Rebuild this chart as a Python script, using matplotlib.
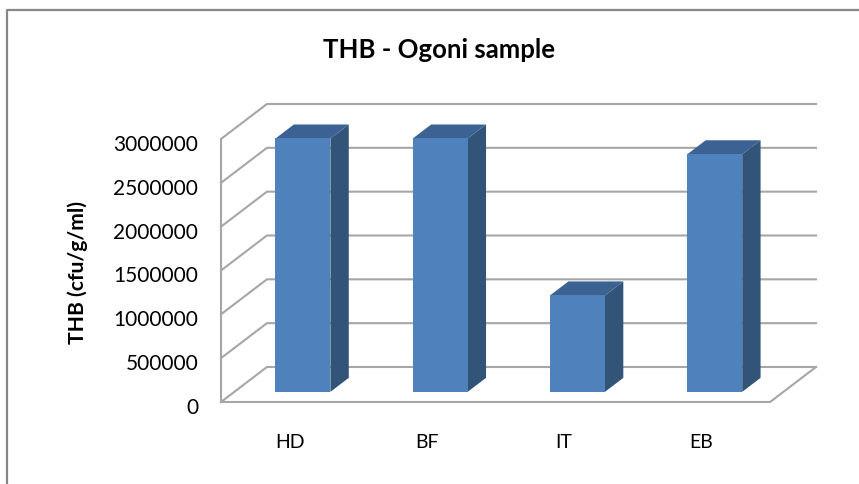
import matplotlib
matplotlib.use('Agg')
import matplotlib.pyplot as plt
from matplotlib.patches import Polygon
from matplotlib.lines import Line2D
from matplotlib.transforms import ScaledTranslation

categories = ['HD', 'BF', 'IT', 'EB']
values = [2890000, 2890000, 1100000, 2710000]
y_ticks = [0, 500000, 1000000, 1500000, 2000000, 2500000, 3000000]

# oblique 3d offsets, in data units (1 category = 137.5 px, 3000000 = 263 px)
DEPTH_X = 46 / 137.5
DEPTH_Y = 35 / 263 * 3000000
BAR_W = 0.4
BAR_NEAR = 0.29
BAR_FAR = 0.69
GRID = '#a6a6a6'

plt.rcParams['font.family'] = ['Lato', 'DejaVu Sans']

W, H = 859, 485
fig = plt.figure(figsize=(W / 100, H / 100), dpi=100)

# outer frame of the chart: only top and left show in the crop
fig.add_artist(Line2D([7 / W, 7 / W, 1], [0, 1 - 11 / H, 1 - 11 / H], transform=fig.transFigure,
                      color='#888888', linewidth=1.6))

# axes box goes from the front left floor corner to the top of the back wall
ax = fig.add_axes([221 / W, 1 - 403 / H, 595 / W, 298 / H])
ax.set_xlim(-0.5, 3.5 + DEPTH_X)
ax.set_ylim(0, 3000000 + DEPTH_Y)
ax.patch.set_alpha(0)
for s in ax.spines.values():
    s.set_visible(False)


def pt(x, y, d=0.0):
    return (x + d * DEPTH_X, y + d * DEPTH_Y)


x0 = -0.5
x1 = 3.5
# back wall grid lines and the slanted side wall lines
for t in y_ticks:
    ax.plot(*zip(pt(x0, t), pt(x0, t, 1), pt(x1, t, 1)), color=GRID, linewidth=1.5,
            solid_joinstyle='miter', clip_on=False, zorder=1)
# left edge and floor front
ax.plot(*zip(pt(x0, y_ticks[-1]), pt(x0, 0), pt(x1, 0), pt(x1, 0, 1)), color=GRID,
        linewidth=1.5, solid_joinstyle='miter', clip_on=False, zorder=1)

for i, v in enumerate(values):
    l = i - BAR_W / 2
    r = i + BAR_W / 2
    ax.add_patch(Polygon([pt(r, 0, BAR_NEAR), pt(r, 0, BAR_FAR), pt(r, v, BAR_FAR), pt(r, v, BAR_NEAR)],
                         facecolor='#335479', edgecolor='none', zorder=3))
    ax.add_patch(Polygon([pt(l, v, BAR_NEAR), pt(r, v, BAR_NEAR), pt(r, v, BAR_FAR), pt(l, v, BAR_FAR)],
                         facecolor='#3b6292', edgecolor='none', zorder=3))
    ax.add_patch(Polygon([pt(l, 0, BAR_NEAR), pt(r, 0, BAR_NEAR), pt(r, v, BAR_NEAR), pt(l, v, BAR_NEAR)],
                         facecolor='#4f81bd', edgecolor='none', zorder=4))

ax.set_xticks(range(len(categories)))
ax.set_xticklabels(categories, fontsize=14)
ax.set_yticks(y_ticks)
ax.set_yticklabels([str(t) for t in y_ticks], fontsize=15)
ax.tick_params(axis='x', length=0, pad=22, colors='black')
ax.tick_params(axis='y', length=0, pad=16.5, colors='black')

# y labels sit a little below their grid level
shift = ScaledTranslation(0, -3 / 100, fig.dpi_scale_trans)
for lab in ax.get_yticklabels():
    lab.set_transform(lab.get_transform() + shift)

fig.text(439 / W, 1 - 58 / H, 'THB - Ogoni sample', fontsize=18.5, fontweight='bold',
         ha='center', va='baseline')
fig.text(78 / W, 1 - 273 / H, 'THB (cfu/g/ml)', fontsize=15.2, fontweight='bold',
         rotation=90, ha='center', va='center')

fig.savefig('out.png', dpi=100)
